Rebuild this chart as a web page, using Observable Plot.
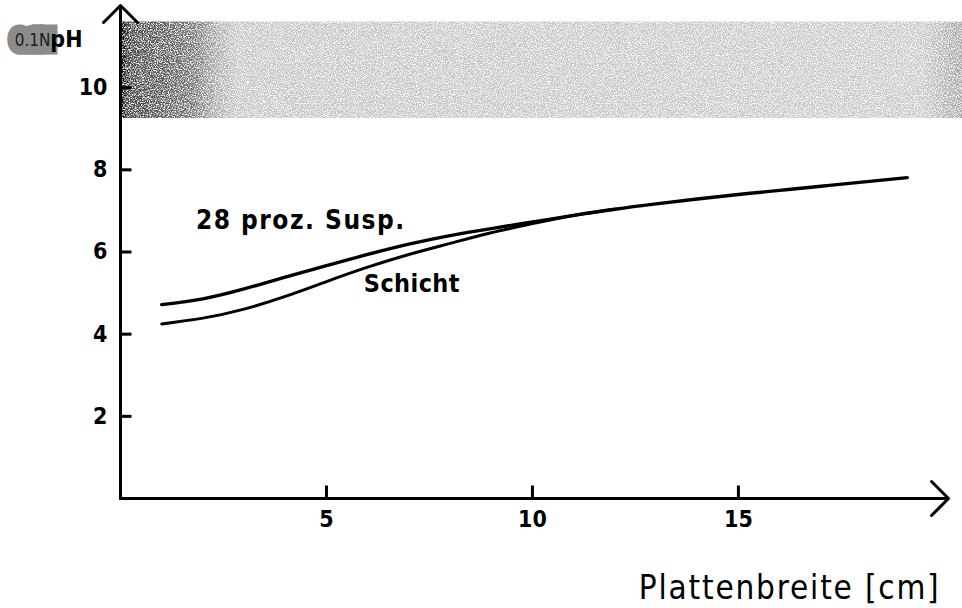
<!DOCTYPE html>
<html>
<head>
<meta charset="utf-8">
<script src="https://cdn.jsdelivr.net/npm/d3@7"></script>
<script src="https://cdn.jsdelivr.net/npm/@observablehq/plot@0.6"></script>
<style>
  html, body { margin: 0; padding: 0; background: #fff; }
</style>
</head>
<body>
<div id="chart"></div>
<script>
// pH along the plate width for the 28 % suspension and for the coated layer
const widthCm = [1, 2, 3, 4, 5, 6, 7, 8, 9, 10, 11, 12, 13, 14, 15, 16, 17, 18, 19.1];
const suspensionPH = [4.72, 4.86, 5.10, 5.39, 5.67, 5.94, 6.19, 6.40, 6.57, 6.73, 6.89, 7.04, 7.17, 7.29, 7.40, 7.50, 7.60, 7.70, 7.81];
const layerWidthCm = [1, 2, 3, 4, 5, 6, 7, 8, 9, 10, 11, 12];
const layerPH = [4.25, 4.39, 4.61, 4.92, 5.28, 5.63, 5.94, 6.21, 6.47, 6.69, 6.89, 7.04];
const seriesNames = ["28 proz. Susp.", "Schicht"];

// alkaline reference zone of the 0.1 N solution
const alkaliPH = [9.25, 11.6];
const alkaliWidthCm = [0, 20.5];

const xTicks = [5, 10, 15];
const yTicks = [2, 4, 6, 8, 10];
const xDomain = [0, 20.1];
const yDomain = [0, 12];
const xTitle = "Plattenbreite [cm]";
const yTitle = "pH";
const reagentTitle = "0.1N";

const W = 962, H = 608;
const margin = {left: 120, right: 14, top: 5, bottom: 110};
const frameW = W - margin.left - margin.right;
const frameH = H - margin.top - margin.bottom;
const xTickLen = 13, yTickLen = 11;   // pixels, drawn inward from the axes

// tick lengths expressed in data units of the other axis
const xTickSpan = xTickLen * (yDomain[1] - yDomain[0]) / frameH;
const yTickSpan = yTickLen * (xDomain[1] - xDomain[0]) / frameW;

const suspension = widthCm.map((x, i) => ({x, y: suspensionPH[i]}));
const layer = layerWidthCm.map((x, i) => ({x, y: layerPH[i]}));
const alkaliZone = [{x1: alkaliWidthCm[0], x2: alkaliWidthCm[1], y1: alkaliPH[0], y2: alkaliPH[1]}];
const axisArrows = [
  {x1: xDomain[0], y1: yDomain[0], x2: xDomain[1], y2: yDomain[0]},
  {x1: xDomain[0], y1: yDomain[0], x2: xDomain[0], y2: yDomain[1]}
];
const tickSegments = [
  ...xTicks.map(v => ({x1: v, x2: v, y1: yDomain[0], y2: yDomain[0] + xTickSpan})),
  ...yTicks.map(v => ({x1: xDomain[0], x2: xDomain[0] + yTickSpan, y1: v, y2: v}))
];

const labelFont = "'DejaVu Sans Condensed', 'DejaVu Sans', sans-serif";
const tickFont = "'DejaVu Sans Condensed', 'DejaVu Sans', sans-serif";

// gradient and printed-screen grain for the alkaline zone
const zoneDefs = () => {
  const defs = d3.create("svg:defs");
  const grad = defs.append("linearGradient")
    .attr("id", "alkali-fade").attr("x1", 0).attr("x2", 1).attr("y1", 0).attr("y2", 0);
  [[0, "#000"], [0.005, "#1a1a1a"], [0.012, "#444"], [0.05, "#555"], [0.09, "#777"],
   [0.115, "#aaaaaa"], [0.14, "#c4c4c4"], [0.95, "#c8c8c8"], [1, "#a0a0a0"]]
    .forEach(([o, c]) => grad.append("stop").attr("offset", o).attr("stop-color", c));
  const f = defs.append("filter").attr("id", "screen-grain");
  f.append("feTurbulence").attr("type", "fractalNoise").attr("baseFrequency", 0.85)
    .attr("numOctaves", 2).attr("seed", 7).attr("result", "noise");
  f.append("feColorMatrix").attr("in", "noise").attr("type", "matrix")
    .attr("values", "0 0 0 0 0  0 0 0 0 0  0 0 0 0 0  3.4 0 0 0 -1.0").attr("result", "mask");
  f.append("feComposite").attr("in", "SourceGraphic").attr("in2", "mask").attr("operator", "in");
  return defs.node();
};

const chart = Plot.plot({
  width: W,
  height: H,
  marginLeft: margin.left,
  marginRight: margin.right,
  marginTop: margin.top,
  marginBottom: margin.bottom,
  x: {domain: xDomain},
  y: {domain: yDomain},
  style: {background: "#fff", color: "#000"},
  marks: [
    zoneDefs,
    Plot.rect(alkaliZone, {x1: "x1", x2: "x2", y1: "y1", y2: "y2", fill: "url(#alkali-fade)"}),
    Plot.axisY({ticks: yTicks, tickSize: 0, tickPadding: 13, label: null,
      fontSize: 23, fontWeight: "bold", fontFamily: tickFont}),
    Plot.axisX({ticks: xTicks, tickSize: 0, tickPadding: 12, label: null,
      fontSize: 23, fontWeight: "bold", fontFamily: tickFont}),
    // short inward tick marks
    Plot.link(tickSegments, {x1: "x1", y1: "y1", x2: "x2", y2: "y2", stroke: "#000",
      strokeWidth: 3, strokeLinecap: "butt"}),
    Plot.arrow(axisArrows, {x1: "x1", y1: "y1", x2: "x2", y2: "y2", stroke: "#000",
      strokeWidth: 3, headLength: 12, headAngle: 90}),
    Plot.line(layer, {x: "x", y: "y", curve: "natural", stroke: "#000", strokeWidth: 3}),
    Plot.line(suspension, {x: "x", y: "y", curve: "natural", stroke: "#000", strokeWidth: 3.4}),
    Plot.text(suspension.filter(d => d.x === 2), {x: "x", y: "y", text: () => seriesNames[0],
      textAnchor: "start", lineAnchor: "bottom", dx: -7, dy: -70, fontSize: 26, fontWeight: "bold",
      fontFamily: labelFont}),
    Plot.text(layer.filter(d => d.x === 7), {x: "x", y: "y", text: () => seriesNames[1],
      textAnchor: "middle", lineAnchor: "bottom", dx: 3, dy: 38, fontSize: 25, fontWeight: "bold",
      fontFamily: labelFont}),
    Plot.text([xTitle], {frameAnchor: "bottom-right", textAnchor: "end", lineAnchor: "bottom",
      dx: -8, dy: 100, fontSize: 33, fontFamily: labelFont}),
    Plot.text([reagentTitle], {frameAnchor: "top-left", textAnchor: "end", lineAnchor: "bottom",
      dx: -70, dy: 40, fontSize: 17, fontFamily: tickFont, fill: "#1a1a1a",
      stroke: "#8c8c8c", strokeWidth: 17, strokeLinejoin: "miter"}),
    Plot.text([yTitle], {frameAnchor: "top-left", textAnchor: "end", lineAnchor: "bottom",
      dx: -38, dy: 41, fontSize: 23, fontWeight: "bold", fontFamily: tickFont})
  ]
});

const svg = d3.select(chart);

// tracking of the set type
const tracking = new Map([[seriesNames[0], 1.5], [seriesNames[1], 0.4], [xTitle, 1.8]]);
svg.selectAll("text")
  .filter(function() { return tracking.has(this.textContent); })
  .attr("letter-spacing", function() { return tracking.get(this.textContent); });

svg.selectAll('g[fill="url(#alkali-fade)"]').attr("filter", "url(#screen-grain)");
document.getElementById("chart").appendChild(chart);
</script>
</body>
</html>
